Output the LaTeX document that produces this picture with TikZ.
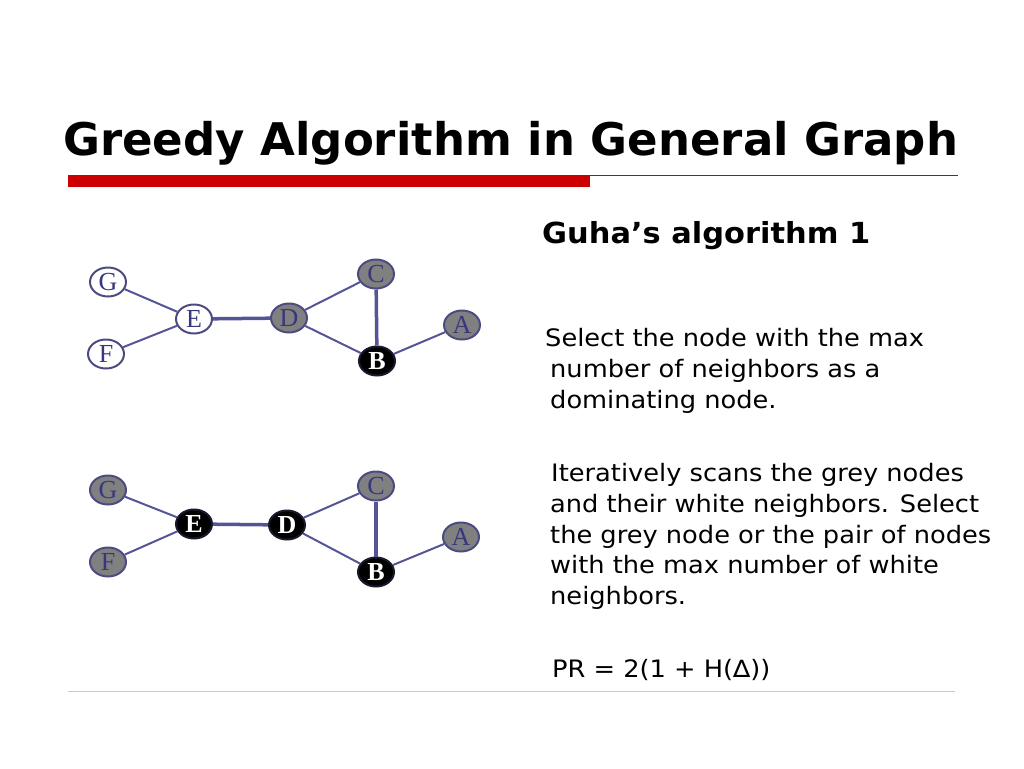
\documentclass[tikz,border=0pt]{standalone}
\usepackage{fontspec}
\setmainfont{DejaVu Sans}
\newfontfamily\bodyfont[FakeStretch=1.07]{DejaVu Sans}
\newfontfamily\subfont[FakeStretch=1.05]{DejaVu Sans}
\newfontfamily\letfont{Liberation Serif}
\usetikzlibrary{shapes.geometric}
\definecolor{edgec}{RGB}{85,85,150}
\definecolor{bordc}{RGB}{75,75,130}
\definecolor{letc}{RGB}{55,55,125}
\definecolor{greyf}{RGB}{128,128,128}
\definecolor{redbar}{RGB}{204,0,0}
\definecolor{rule}{RGB}{235,185,180}
\tikzset{
  gnode/.style={ellipse, draw=bordc, line width=2pt, minimum width=36pt, minimum height=29pt, inner sep=0pt, font=\letfont\fontsize{26}{26}\selectfont},
  wnode/.style={gnode, fill=white, text=letc},
  grnode/.style={gnode, fill=greyf, text=letc},
  bnode/.style={gnode, fill=black, draw=black!70!edgec, text=white, font=\letfont\bfseries\fontsize{26}{26}\selectfont},
  edge/.style={draw=edgec, line width=2pt},
  thick edge/.style={draw=edgec, line width=3.5pt},
  body/.style={anchor=base west, inner sep=0pt, font=\bodyfont\fontsize{24}{24}\selectfont},
}
\begin{document}
\begin{tikzpicture}[x=1pt,y=-1pt]
\useasboundingbox (0,0) rectangle (1024,768);
\node[anchor=base west, inner sep=0pt, font=\bfseries\fontsize{45}{45}\selectfont] (title) at (63,155) {Greedy Algorithm in General Graph};
\fill[redbar] (68,175) rectangle (590,187);
\draw[redbar, line width=1.2pt] (590,175.6) -- (958,175.6);
\draw[rule, line width=1pt] (68,691) -- (955,691);

\node[anchor=base west, inner sep=0pt, font=\subfont\bfseries\fontsize{29}{29}\selectfont] (sub) at (542,243) {Guha’s algorithm 1};

\node[body] (l1) at (545,346) {Select the node with the max};
\node[body] (l2) at (550,377) {number of neighbors as a};
\node[body] (l3) at (550,408) {dominating node.};
\node[body] (l4) at (551,481) {Iteratively scans the grey nodes};
\node[body] (l5) at (550,512) {and their white neighbors. Select};
\node[body] (l6) at (550,543) {the grey node or the pair of nodes};
\node[body] (l7) at (550,573) {with the max number of white};
\node[body] (l8) at (550,604) {neighbors.};
\node[body] (l9) at (552,677) {PR = 2(1 + H(∆))};

% graph 1
\node[wnode] (G1) at (108,282) {G};
\node[wnode] (F1) at (106,354) {F};
\node[wnode] (E1) at (194,319) {E};
\node[grnode] (D1) at (289,318) {D};
\node[grnode] (C1) at (376,274) {C};
\node[bnode] (B1) at (377,361) {B};
\node[grnode] (A1) at (462,325) {A};
\draw[edge] (G1) -- (E1);
\draw[edge] (F1) -- (E1);
\draw[thick edge] (E1) -- (D1);
\draw[edge] (D1) -- (C1);
\draw[edge] (D1) -- (B1);
\draw[thick edge] (C1) -- (B1);
\draw[edge] (B1) -- (A1);

% graph 2
\node[grnode] (G2) at (108,490) {G};
\node[grnode] (F2) at (108,562) {F};
\node[bnode] (E2) at (194,524) {E};
\node[bnode] (D2) at (287,525) {D};
\node[grnode] (C2) at (376,486) {C};
\node[bnode] (B2) at (376,572) {B};
\node[grnode] (A2) at (461,537) {A};
\draw[edge] (G2) -- (E2);
\draw[edge] (F2) -- (E2);
\draw[thick edge] (E2) -- (D2);
\draw[edge] (D2) -- (C2);
\draw[edge] (D2) -- (B2);
\draw[thick edge] (C2) -- (B2);
\draw[edge] (B2) -- (A2);
\end{tikzpicture}
\end{document}
